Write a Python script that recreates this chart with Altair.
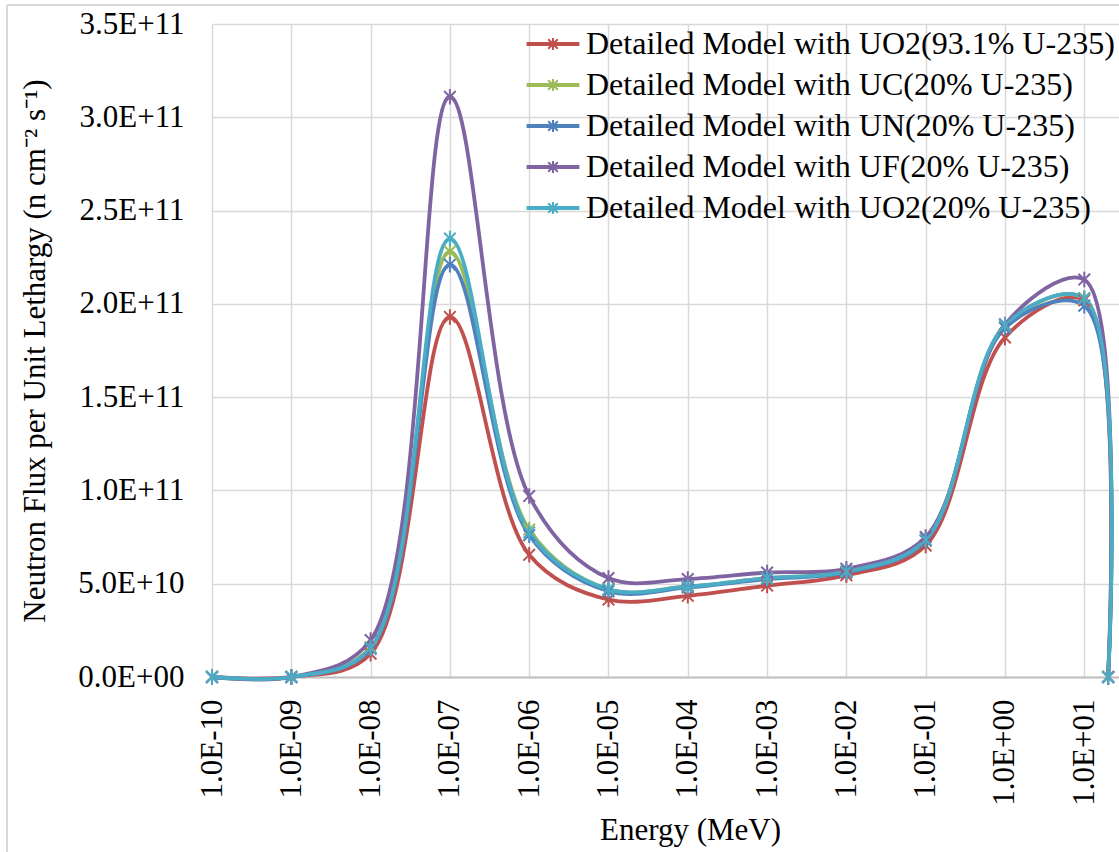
import altair as alt
import pandas as pd

# ---- data ----
energies = [1e-10, 1e-9, 1e-8, 1e-7, 1e-6, 1e-5, 1e-4, 1e-3, 1e-2, 1e-1, 1e0, 1e1, 2e1]

series_names = [
    "Detailed Model with UO2(93.1% U-235)",
    "Detailed Model with UC(20% U-235)",
    "Detailed Model with UN(20% U-235)",
    "Detailed Model with UF(20% U-235)",
    "Detailed Model with UO2(20% U-235)",
]
uo2_931 = [0, 0, 1.25e10, 1.93e11, 6.55e10, 4.15e10, 4.35e10, 4.9e10, 5.45e10, 7.05e10, 1.82e11, 2.02e11, 0]
uc_20   = [0, 0, 1.6e10, 2.28e11, 7.9e10, 4.7e10, 4.85e10, 5.3e10, 5.65e10, 7.35e10, 1.88e11, 2.03e11, 0]
un_20   = [0, 0, 1.5e10, 2.21e11, 7.6e10, 4.6e10, 4.8e10, 5.25e10, 5.6e10, 7.3e10, 1.87e11, 1.99e11, 0]
uf_20   = [0, 0, 1.98e10, 3.11e11, 9.7e10, 5.3e10, 5.25e10, 5.6e10, 5.8e10, 7.5e10, 1.89e11, 2.13e11, 0]
uo2_20  = [0, 0, 1.55e10, 2.35e11, 7.75e10, 4.7e10, 4.85e10, 5.3e10, 5.65e10, 7.35e10, 1.886e11, 2.03e11, 0]

series_values = [uo2_931, uc_20, un_20, uf_20, uo2_20]
colors = ["#C0504D", "#9BBB59", "#4F81BD", "#8064A2", "#4BACC6"]

x_ticks = [1e-10, 1e-9, 1e-8, 1e-7, 1e-6, 1e-5, 1e-4, 1e-3, 1e-2, 1e-1, 1e0, 1e1]
y_ticks = [0, 5e10, 1e11, 1.5e11, 2e11, 2.5e11, 3e11, 3.5e11]
x_domain = [1e-10, 27.4]
y_domain = [0, 3.5e11]

rows = []
for name, vals in zip(series_names, series_values):
    for e, v in zip(energies, vals):
        rows.append({"series": name, "energy": e, "flux": v})
df = pd.DataFrame(rows)

FONT = "Liberation Serif"
FS = 31

x_label_expr = (
    "'1.0E' + (round(log(datum.value)/LN10) < 0 ? '-' : '+') + "
    "(abs(round(log(datum.value)/LN10)) < 10 ? '0' : '') + abs(round(log(datum.value)/LN10))"
)
y_label_expr = (
    "datum.value == 0 ? '0.0E+00' : "
    "format(datum.value / pow(10, floor(log(datum.value)/LN10 + 1e-9)), '.1f') + 'E+' + "
    "floor(log(datum.value)/LN10 + 1e-9)"
)

asterisk = "M-0.75,-0.75L0.75,0.75M-0.75,0.75L0.75,-0.75M0,-1V1"
legend_symbol = ("M-4.4,-0.17H4.4M-4.4,0H4.4M-4.4,0.17H4.4"
                 "M-0.8,-0.8L0.8,0.8M-0.8,0.8L0.8,-0.8M0,-1V1")

x_enc = alt.X(
    "energy:Q",
    scale=alt.Scale(type="log", domain=x_domain, nice=False, zero=False),
    axis=alt.Axis(
        title="Energy (MeV)",
        values=x_ticks,
        labelExpr=x_label_expr,
        labelAngle=-90,
        labelPadding=22,
        titlePadding=10,
        titleX=478,
        ticks=False,
        tickSize=0,
        grid=True,
        gridColor="#d9d9d9",
        gridWidth=1.5,
        domainColor="#bfbfbf",
        domainWidth=2,
        labelFont=FONT,
        labelFontSize=FS,
        labelColor="#000000",
        titleFont=FONT,
        titleFontSize=FS,
        titleFontWeight="normal",
        titleColor="#000000",
        labelFlush=False,
        labelOverlap=False,
    ),
)
y_enc = alt.Y(
    "flux:Q",
    scale=alt.Scale(domain=y_domain, nice=False),
    axis=alt.Axis(
        title="Neutron Flux per Unit Lethargy (n cm\u207b\u00b2 s\u207b\u00b9)",
        values=y_ticks,
        labelExpr=y_label_expr,
        labelPadding=28,
        titlePadding=26,
        ticks=False,
        tickSize=0,
        domain=False,
        grid=True,
        gridColor="#d9d9d9",
        gridWidth=1.5,
        labelFont=FONT,
        labelFontSize=FS,
        labelColor="#000000",
        titleFont=FONT,
        titleFontSize=FS,
        titleFontWeight="normal",
        titleColor="#000000",
        labelFlush=False,
        labelOverlap=False,
    ),
)
color_scale = alt.Scale(domain=series_names, range=colors)

legend = alt.Legend(
    title=None,
    orient="none",
    legendX=325,
    legendY=4,
    padding=0,
    symbolType=legend_symbol,
    symbolSize=144,
    symbolStrokeWidth=2,
    rowPadding=9,
    labelOffset=17,
    labelFont=FONT,
    labelFontSize=32,
    labelColor="#000000",
    labelLimit=0,
)

base = alt.Chart(df)

lines = base.mark_line(interpolate="catmull-rom", strokeWidth=3.8).encode(
    x=x_enc,
    y=y_enc,
    color=alt.Color("series:N", scale=color_scale, legend=legend, sort=series_names),
    detail="series:N",
)

points = base.mark_point(shape=asterisk, filled=False, size=240, strokeWidth=2, opacity=1).encode(
    x=x_enc,
    y=y_enc,
    color=alt.Color("series:N", scale=color_scale, legend=None, sort=series_names),
)

frame_data = alt.Data(values=[{"k": 1}])
frame_left = alt.Chart(frame_data).mark_rule(color="#d9d9d9", strokeWidth=2).encode(
    x=alt.value(-205), y=alt.value(-19), y2=alt.value(830)
)
frame_top = alt.Chart(frame_data).mark_rule(color="#d9d9d9", strokeWidth=2).encode(
    x=alt.value(-205), x2=alt.value(910), y=alt.value(-19)
)

chart = alt.layer(frame_left, frame_top, lines, points).properties(
    width=907,
    height=653,
    padding={"left": 212, "top": 24, "right": 0, "bottom": 175},
    autosize=alt.AutoSizeParams(type="none"),
    background="white",
).configure_view(stroke=None)

chart.save("out.html", embed_options={"renderer": "svg", "actions": False})
